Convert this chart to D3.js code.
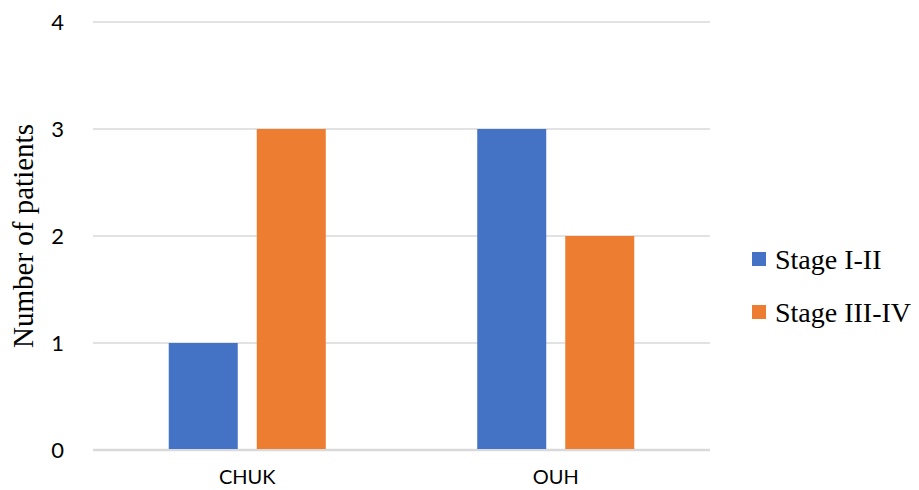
<!DOCTYPE html>
<html>
<head>
<meta charset="utf-8">
<script src="https://cdn.jsdelivr.net/npm/d3@7"></script>
<style>
  body { margin: 0; background: #fff; }
</style>
</head>
<body>
<div id="chart"></div>
<script>
var categories = ["CHUK", "OUH"];
var series = ["Stage I-II", "Stage III-IV"];
var stage12 = [1, 3];
var stage34 = [3, 2];
var yTicks = [0, 1, 2, 3, 4];
var colors = ["#4472C4", "#ED7D31"];

var width = 919, height = 490;
var margin = {top: 22, right: 209, bottom: 40, left: 93};
var w = width - margin.left - margin.right,
    h = height - margin.top - margin.bottom;

var svg = d3.select("#chart").append("svg")
    .attr("width", width)
    .attr("height", height);

var g = svg.append("g")
    .attr("transform", "translate(" + margin.left + "," + margin.top + ")");

var data = categories.map(function(c, i) {
  return {cat: c, values: [stage12[i], stage34[i]]};
});

var x0 = d3.scaleBand().domain(categories).range([0, w]);
var groupW = x0.bandwidth() * 0.509;
var x1 = d3.scaleBand().domain(series).range([0, groupW]).paddingInner(0.216);
var y = d3.scaleLinear().domain([0, 4]).range([h, 0]);

// gridlines
g.append("g")
  .selectAll("line").data(yTicks).enter().append("line")
    .attr("x1", 0).attr("x2", w)
    .attr("y1", function(d) { return y(d); })
    .attr("y2", function(d) { return y(d); })
    .attr("stroke", "#D9D9D9")
    .attr("stroke-width", function(d) { return d === 0 ? 2.5 : 1.5; });

// y axis labels
var yAxis = g.append("g")
    .call(d3.axisLeft(y).tickValues(yTicks).tickSize(0).tickPadding(29).tickFormat(d3.format("d")));
yAxis.select(".domain").remove();
yAxis.selectAll("text")
    .style("font-family", "Lato, 'Liberation Sans', sans-serif")
    .style("font-size", "22px")
    .attr("fill", "#000");

// x axis labels
var xAxis = g.append("g")
    .attr("transform", "translate(0," + h + ")")
    .call(d3.axisBottom(x0).tickSize(0).tickPadding(20));
xAxis.select(".domain").remove();
xAxis.selectAll("text")
    .style("font-family", "Lato, 'Liberation Sans', sans-serif")
    .style("font-size", "20px")
    .attr("fill", "#000");

// bars
var groups = g.selectAll(".grp").data(data).enter().append("g")
    .attr("class", "grp")
    .attr("transform", function(d) {
      return "translate(" + (x0(d.cat) + (x0.bandwidth() - groupW) / 2) + ",0)";
    });

groups.selectAll("rect")
  .data(function(d) { return d.values.map(function(v, i) { return {key: series[i], value: v, i: i}; }); })
  .enter().append("rect")
    .attr("x", function(d) { return x1(d.key); })
    .attr("width", x1.bandwidth())
    .attr("y", function(d) { return y(d.value); })
    .attr("height", function(d) { return y(0) - y(d.value) - 1; })
    .attr("fill", function(d) { return colors[d.i]; });

// y title
svg.append("text")
    .attr("transform", "translate(33," + (margin.top + h / 2) + ") rotate(-90)")
    .attr("text-anchor", "middle")
    .attr("font-family", "'Liberation Serif', 'Times New Roman', serif")
    .attr("font-size", 29)
    .text("Number of patients");

// legend
var legend = svg.append("g").attr("transform", "translate(752,252)");
var li = legend.selectAll("g").data(series).enter().append("g")
    .attr("transform", function(d, i) { return "translate(0," + (i * 53) + ")"; });
li.append("rect")
    .attr("width", 14).attr("height", 14)
    .attr("fill", function(d, i) { return colors[i]; });
li.append("text")
    .attr("x", 23).attr("y", 17)
    .attr("font-family", "'Liberation Serif', 'Times New Roman', serif")
    .attr("font-size", 28)
    .text(function(d) { return d; });
</script>
</body>
</html>
